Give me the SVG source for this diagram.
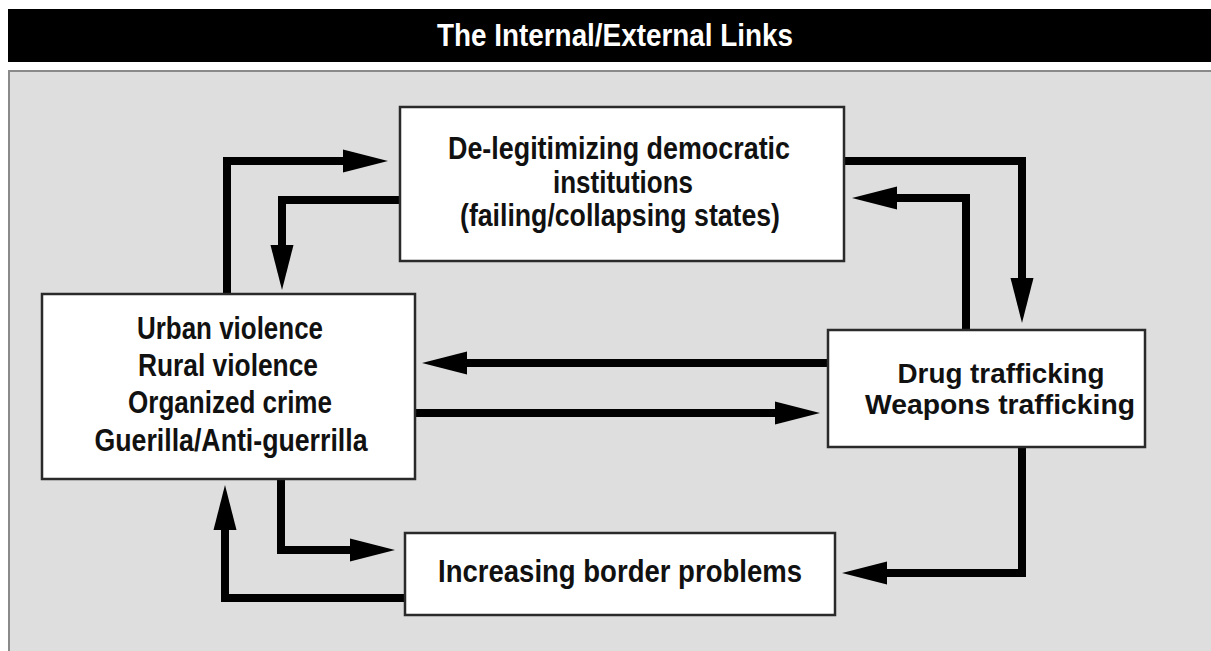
<svg xmlns="http://www.w3.org/2000/svg" width="1211" height="651" viewBox="0 0 1211 651">
<style>
.box{fill:#fff;stroke:#2a2a2a;stroke-width:2.5}
.t{font-family:"Liberation Sans",Arial,sans-serif;font-weight:bold;font-size:31px;fill:#111;text-anchor:middle}
.s{font-size:28px}
.c{fill:none;stroke:#000;stroke-width:8;stroke-linejoin:miter;stroke-linecap:butt}
</style>
<defs>
<marker id="ah" markerUnits="userSpaceOnUse" markerWidth="46" markerHeight="24" refX="5" refY="11.5" orient="auto" overflow="visible">
<path d="M0,0 L45,11.5 L0,23 z" fill="#000"/>
</marker>
</defs>
<rect x="0" y="0" width="1211" height="651" fill="#fff"/>
<g id="title">
<rect x="8" y="9" width="1205" height="53" fill="#000"/>
<text x="615" y="46" class="t" style="fill:#fff" textLength="356" lengthAdjust="spacingAndGlyphs">The Internal/External Links</text>
</g>
<rect x="9" y="71" width="1210" height="590" fill="#dedede" stroke="#8a8a8a" stroke-width="2"/>
<g id="connectors">
<path class="c" d="M227,294 V161 H348" marker-end="url(#ah)"/>
<path class="c" d="M400,200 H282 V250" marker-end="url(#ah)"/>
<path class="c" d="M844,161 H1022 V283" marker-end="url(#ah)"/>
<path class="c" d="M966,330 V198 H892" marker-end="url(#ah)"/>
<path class="c" d="M828,363 H462" marker-end="url(#ah)"/>
<path class="c" d="M415,413 H780" marker-end="url(#ah)"/>
<path class="c" d="M281,479 V550 H355" marker-end="url(#ah)"/>
<path class="c" d="M405,598 H225 V525" marker-end="url(#ah)"/>
<path class="c" d="M1022,447 V573 H882" marker-end="url(#ah)"/>
</g>
<g id="node-institutions">
<rect class="box" x="400" y="107" width="444" height="154"/>
<text class="t" x="619" y="159" textLength="342" lengthAdjust="spacingAndGlyphs">De-legitimizing democratic</text>
<text class="t" x="623" y="193" textLength="140" lengthAdjust="spacingAndGlyphs">institutions</text>
<text class="t" x="620" y="226" textLength="320" lengthAdjust="spacingAndGlyphs">(failing/collapsing states)</text>
</g>
<g id="node-violence">
<rect class="box" x="42" y="294" width="373" height="185"/>
<text class="t" x="230" y="339" textLength="186" lengthAdjust="spacingAndGlyphs">Urban violence</text>
<text class="t" x="228" y="376" textLength="180" lengthAdjust="spacingAndGlyphs">Rural violence</text>
<text class="t" x="230" y="413" textLength="204" lengthAdjust="spacingAndGlyphs">Organized crime</text>
<text class="t" x="231" y="451" textLength="273" lengthAdjust="spacingAndGlyphs">Guerilla/Anti-guerrilla</text>
</g>
<g id="node-trafficking">
<rect class="box" x="828" y="330" width="317" height="117"/>
<text class="t s" x="1001" y="383" textLength="207" lengthAdjust="spacingAndGlyphs">Drug trafficking</text>
<text class="t s" x="1000" y="414" textLength="270" lengthAdjust="spacingAndGlyphs">Weapons trafficking</text>
</g>
<g id="node-border">
<rect class="box" x="405" y="533" width="430" height="82"/>
<text class="t" x="620" y="582" textLength="364" lengthAdjust="spacingAndGlyphs">Increasing border problems</text>
</g>
</svg>
